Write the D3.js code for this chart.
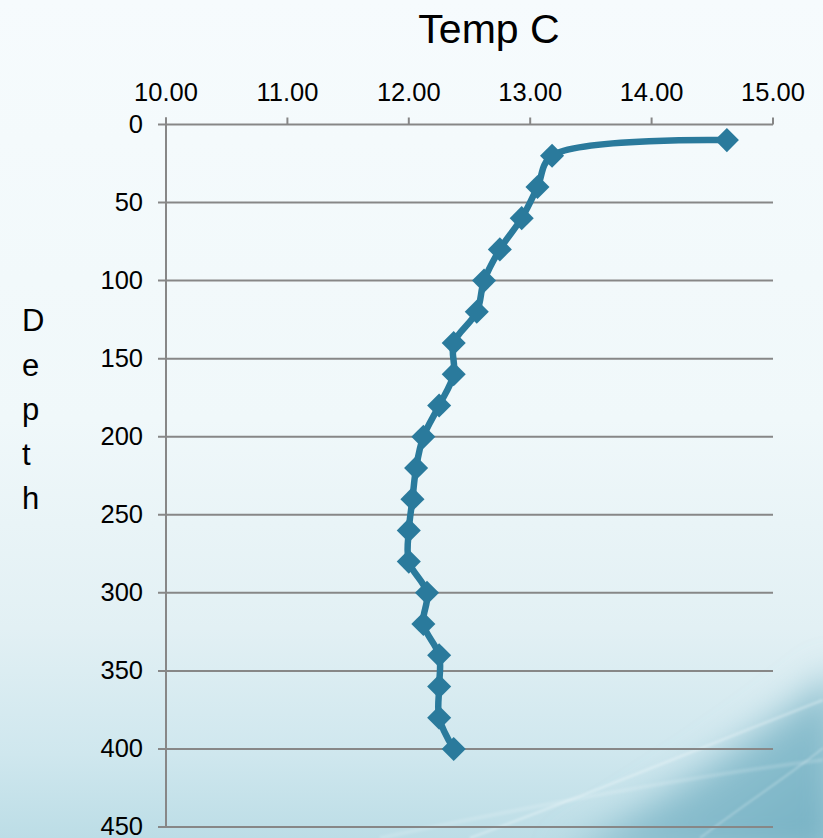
<!DOCTYPE html>
<html>
<head>
<meta charset="utf-8">
<script src="https://cdn.jsdelivr.net/npm/d3@7/dist/d3.min.js"></script>
<style>
  html, body { margin: 0; padding: 0; background: #f4fafc; }
  svg { display: block; }
  text { font-family: "Liberation Sans", Arial, sans-serif; fill: #000; }
</style>
</head>
<body>
<svg id="chart" width="823" height="838"></svg>
<script>
// Temperature profile: depth (m) vs temperature (°C)
const depths = [10, 20, 40, 60, 80, 100, 120, 140, 160, 180, 200, 220, 240, 260, 280, 300, 320, 340, 360, 380, 400];
const temps  = [14.62, 13.18, 13.06, 12.93, 12.75, 12.62, 12.56, 12.37, 12.37, 12.25, 12.12, 12.06, 12.03, 12.00, 12.00, 12.15, 12.12, 12.25, 12.25, 12.25, 12.37];
const tempTicks  = [10, 11, 12, 13, 14, 15];
const depthTicks = [0, 50, 100, 150, 200, 250, 300, 350, 400, 450];
const xTitle = "Temp C";
const yTitle = "Depth";

const W = 823, H = 838;
const svg = d3.select("#chart");

// Background: pale wash fading to light blue, deeper teal in the lower right
const defs = svg.append("defs");
const lg = defs.append("linearGradient").attr("id", "bgV").attr("x1", 0).attr("y1", 0).attr("x2", 0).attr("y2", 1);
lg.append("stop").attr("offset", 0).attr("stop-color", "#f6fbfd");
lg.append("stop").attr("offset", 0.5).attr("stop-color", "#f0f8fa");
lg.append("stop").attr("offset", 0.75).attr("stop-color", "#e2f0f4");
lg.append("stop").attr("offset", 0.9).attr("stop-color", "#cfe7ee");
lg.append("stop").attr("offset", 1).attr("stop-color", "#bcdde6");

const dg = defs.append("linearGradient").attr("id", "bgD").attr("x1", 0).attr("y1", 0).attr("x2", 1).attr("y2", 1);
dg.append("stop").attr("offset", 0).attr("stop-color", "#a9d1dc");
dg.append("stop").attr("offset", 1).attr("stop-color", "#72afc2");

defs.append("filter").attr("id", "soft").attr("x", "-20%").attr("y", "-20%").attr("width", "140%").attr("height", "140%")
  .append("feGaussianBlur").attr("stdDeviation", 18);
defs.append("filter").attr("id", "softLine")
  .append("feGaussianBlur").attr("stdDeviation", 1.2);

svg.append("rect").attr("width", W).attr("height", H).attr("fill", "url(#bgV)");
svg.append("path")
  .attr("d", "M560,860 C660,800 740,750 840,670 L840,860 Z")
  .attr("fill", "url(#bgD)")
  .attr("filter", "url(#soft)");

// faint light swooshes in the lower right
const swoosh = svg.append("g").attr("fill", "none").attr("stroke", "#ffffff").attr("filter", "url(#softLine)");
swoosh.append("path").attr("d", "M470,838 C600,790 720,740 823,700").attr("stroke-opacity", 0.3).attr("stroke-width", 2.5);
swoosh.append("path").attr("d", "M700,838 C750,800 790,775 823,748").attr("stroke-opacity", 0.25).attr("stroke-width", 2);
swoosh.append("path").attr("d", "M380,838 C560,800 700,775 823,760").attr("stroke-opacity", 0.15).attr("stroke-width", 4);

// Scales
const x = d3.scaleLinear().domain([10, 15]).range([166, 773]);
const y = d3.scaleLinear().domain([0, 450]).range([124.5, 827]);

const gridColor = "#878787";

// Horizontal gridlines with left tick stubs
svg.append("g").selectAll("line").data(depthTicks).join("line")
  .attr("x1", 158).attr("x2", x(15))
  .attr("y1", d => y(d)).attr("y2", d => y(d))
  .attr("stroke", gridColor).attr("stroke-width", 2);

// Vertical axis line
svg.append("line")
  .attr("x1", x(10)).attr("x2", x(10))
  .attr("y1", y(0) - 7).attr("y2", y(450))
  .attr("stroke", gridColor).attr("stroke-width", 2);

// Top tick marks
svg.append("g").selectAll("line").data(tempTicks).join("line")
  .attr("x1", d => x(d)).attr("x2", d => x(d))
  .attr("y1", y(0) - 7).attr("y2", y(0))
  .attr("stroke", gridColor).attr("stroke-width", 2);

// Tick labels
svg.append("g").selectAll("text").data(tempTicks).join("text")
  .attr("x", d => x(d)).attr("y", 101)
  .attr("text-anchor", "middle")
  .style("font-size", "25.5px")
  .text(d => d.toFixed(2));

svg.append("g").selectAll("text").data(depthTicks).join("text")
  .attr("x", 143).attr("y", d => y(d))
  .attr("dy", "0.33em")
  .attr("text-anchor", "end")
  .style("font-size", "25.5px")
  .text(d => d);

// Axis titles
svg.append("text")
  .attr("x", 489).attr("y", 43)
  .attr("text-anchor", "middle")
  .style("font-size", "41px")
  .text(xTitle);

svg.append("g").selectAll("text").data(yTitle.split("")).join("text")
  .attr("x", 22).attr("y", (d, i) => 331 + i * 44.5)
  .style("font-size", "31px")
  .text(d => d);

// Profile line
const pts = depths.map((d, i) => [temps[i], d]);
const lineColor = "#2a7a9c";
const line = d3.line()
  .x(d => x(d[0])).y(d => y(d[1]))
  .curve(d3.curveCatmullRom.alpha(0.5));

svg.append("path")
  .datum(pts)
  .attr("d", line)
  .attr("fill", "none")
  .attr("stroke", lineColor)
  .attr("stroke-width", 6.5)
  .attr("stroke-linejoin", "round");

// Diamond markers
const diamond = d3.symbol().type(d3.symbolSquare).size(290);
svg.append("g").selectAll("path").data(pts).join("path")
  .attr("d", diamond)
  .attr("transform", d => `translate(${x(d[0])},${y(d[1])}) rotate(45)`)
  .attr("fill", lineColor);
</script>
</body>
</html>
